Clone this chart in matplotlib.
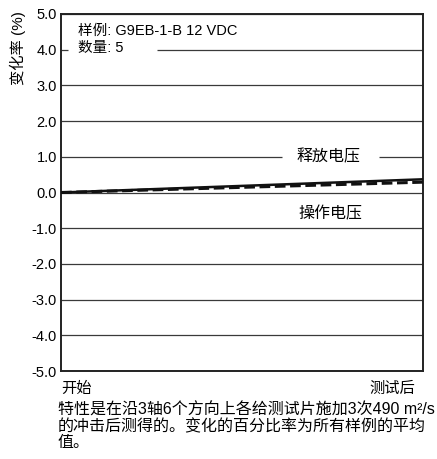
import matplotlib
matplotlib.use("Agg")
import matplotlib.pyplot as plt

plt.rcParams['font.family'] = ['Liberation Sans', 'Noto Sans CJK SC', 'DejaVu Sans']

# Data
stages = [0, 1]
stage_labels = ["开始", "测试后"]
release_voltage = [0.0, 0.37]   # 释放电压 (solid)
operate_voltage = [0.0, 0.29]   # 操作电压 (dashed)
y_ticks = [5.0, 4.0, 3.0, 2.0, 1.0, 0.0, -1.0, -2.0, -3.0, -4.0, -5.0]

fig = plt.figure(figsize=(4.37, 4.59), dpi=100)
ax = fig.add_axes([0.1396, 0.1917, 0.828, 0.7778])

# grid lines, some broken where the text sits
grid_kw = dict(color="#3a3a3a", linewidth=0.9, zorder=1)
for yv in y_ticks:
    if yv == 4.0:
        ax.hlines(yv, 0, 0.02, **grid_kw)
        ax.hlines(yv, 0.265, 1, **grid_kw)
    elif yv == 1.0:
        ax.hlines(yv, 0, 0.61, **grid_kw)
        ax.hlines(yv, 0.88, 1, **grid_kw)
    else:
        ax.hlines(yv, 0, 1, **grid_kw)

ax.plot(stages, operate_voltage, color="#111111", linewidth=2.2,
        dashes=(3.5, 1.5), zorder=3)
ax.plot(stages, release_voltage, color="#111111", linewidth=1.8, zorder=4)

ax.set_xlim(0, 1)
ax.set_ylim(-5.0, 5.0)
ax.set_yticks(y_ticks)
ax.set_yticklabels([f"{v:.1f}" for v in y_ticks], fontsize=10.5)
ax.tick_params(axis="y", length=0, pad=3)
ax.set_xticks([])
for s in ax.spines.values():
    s.set_linewidth(1.4)
    s.set_color("#222222")

# sample info
ax.text(0.047, 4.52, "样例: G9EB-1-B 12 VDC", fontsize=10.5, va="center", ha="left")
ax.text(0.047, 4.04, "数量: 5", fontsize=10.5, va="center", ha="left")

# curve labels
ax.text(0.74, 1.0, "释放电压", fontsize=11.5, ha="center", va="center", zorder=5)
ax.text(0.745, -0.58, "操作电压", fontsize=11.5, ha="center", va="center", zorder=5)

# x labels
ax.text(0.0, -5.5, stage_labels[0], fontsize=11, ha="left", va="center")
ax.text(0.978, -5.5, stage_labels[1], fontsize=11, ha="right", va="center")

fig.text(0.04, 0.975, "变化率 (%)", rotation=90, fontsize=11,
         ha="center", va="top")

caption = ("特性是在沿3轴6个方向上各给测试片施加3次490 m²/s\n"
           "的冲击后测得的。变化的百分比率为所有样例的平均\n"
           "值。")
fig.text(0.132, 0.124, caption, fontsize=11.5, ha="left", va="top",
         linespacing=1.1)

fig.savefig("out.png", dpi=100)
